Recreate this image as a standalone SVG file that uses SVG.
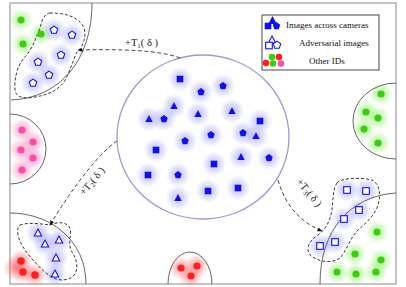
<svg xmlns="http://www.w3.org/2000/svg" xmlns:xlink="http://www.w3.org/1999/xlink" width="406" height="287" viewBox="0 0 406 287">
<style>
.frame{fill:none;stroke:#8a8a8a;stroke-width:1}
.arc{fill:none;stroke:#555;stroke-width:0.9}
.blob{fill:none;stroke:#222;stroke-width:0.9;stroke-dasharray:3,2}
.conn{fill:none;stroke:#333;stroke-width:0.9;stroke-dasharray:4,2.5}
.fs{fill:#1010f0}
.os{fill:#fff;stroke:#1010f0;stroke-width:1.1}
.lbl{font-family:"Liberation Serif","Times New Roman",serif;font-size:10.5px;fill:#222}
.leg{font-family:"Liberation Serif","Times New Roman",serif;font-size:9px;fill:#111}
.gd{fill:#3ccc10}
.rd{fill:#ff1f1f}
.pd{fill:#ff4aa8}
</style>
<defs>
<radialGradient id="gB"><stop offset="0" stop-color="#7070ff" stop-opacity="0.45"/><stop offset="0.6" stop-color="#8a8aff" stop-opacity="0.25"/><stop offset="1" stop-color="#a0a0ff" stop-opacity="0"/></radialGradient>
<radialGradient id="gG"><stop offset="0" stop-color="#50e020" stop-opacity="0.5"/><stop offset="0.6" stop-color="#70e840" stop-opacity="0.25"/><stop offset="1" stop-color="#90f060" stop-opacity="0"/></radialGradient>
<radialGradient id="gR"><stop offset="0" stop-color="#ff2020" stop-opacity="0.5"/><stop offset="0.6" stop-color="#ff5050" stop-opacity="0.25"/><stop offset="1" stop-color="#ff7070" stop-opacity="0"/></radialGradient>
<radialGradient id="gP"><stop offset="0" stop-color="#ff40a0" stop-opacity="0.5"/><stop offset="0.6" stop-color="#ff60b0" stop-opacity="0.25"/><stop offset="1" stop-color="#ff80c0" stop-opacity="0"/></radialGradient>
<rect id="sq" x="-3.3" y="-3.3" width="6.6" height="6.6"/>
<polygon id="tr" points="0,-3.9 3.7,3 -3.7,3"/>
<polygon id="pe" points="0,-3.9 3.7,-1.2 2.3,3.2 -2.3,3.2 -3.7,-1.2"/>
<circle id="glB" r="12.5" fill="url(#gB)"/>
<circle id="glG" r="12" fill="url(#gG)"/>
<circle id="glR" r="12" fill="url(#gR)"/>
<circle id="glP" r="12" fill="url(#gP)"/>
<marker id="ah" viewBox="0 0 10 10" refX="9" refY="5" markerWidth="5" markerHeight="5" orient="auto" markerUnits="userSpaceOnUse"><path d="M0,1 L10,5 L0,9 Z" fill="#111"/></marker>
</defs>
<rect width="406" height="287" fill="#fff"/>
<rect class="frame" x="10" y="3" width="386" height="281"/>

<g id="cluster-topleft">
<g>
<use href="#glG" x="21" y="20"/><use href="#glG" x="41" y="34"/><use href="#glG" x="23" y="44"/>
<use href="#glB" x="54" y="30"/><use href="#glB" x="72" y="35"/><use href="#glB" x="61" y="55"/><use href="#glB" x="38" y="62"/><use href="#glB" x="49" y="75"/><use href="#glB" x="33" y="83"/>
</g>
<path class="arc" d="M92,3 C92,60 60,98 11,100"/>
<path class="blob" d="M50,13 C62,13 78,15 84,28 C87,38 82,48 77,52 C73,60 70,72 64,82 C58,90 48,95 35,97 C25,99 16,98 15,90 C14,80 17,66 24,58 C32,50 35,40 40,28 C42,20 44,14 50,13 Z"/>
<circle class="gd" cx="21" cy="20" r="3.6"/><circle class="gd" cx="41" cy="34" r="3.6"/><circle class="gd" cx="23" cy="44" r="3.6"/>
<use class="os" href="#pe" x="54" y="30"/><use class="os" href="#pe" x="72" y="35"/><use class="os" href="#pe" x="61" y="55"/><use class="os" href="#pe" x="38" y="62"/><use class="os" href="#pe" x="49" y="75"/><use class="os" href="#pe" x="33" y="83"/>
</g>

<g id="cluster-left">
<use href="#glP" x="22" y="130"/><use href="#glP" x="33" y="142"/><use href="#glP" x="21" y="150"/><use href="#glP" x="33" y="158"/><use href="#glP" x="22" y="170"/>
<path class="arc" d="M10,114 A36,35 0 0 1 10,184"/>
<circle class="pd" cx="22" cy="130" r="3.6"/><circle class="pd" cx="33" cy="142" r="3.6"/><circle class="pd" cx="21" cy="150" r="3.6"/><circle class="pd" cx="33" cy="158" r="3.6"/><circle class="pd" cx="22" cy="170" r="3.6"/>
</g>

<g id="cluster-bottomleft">
<use href="#glR" x="21" y="261"/><use href="#glR" x="23" y="272"/><use href="#glR" x="35" y="275"/><use href="#glR" x="15" y="268"/>
<use href="#glB" x="38" y="233"/><use href="#glB" x="59" y="240"/><use href="#glB" x="45" y="244"/><use href="#glB" x="56" y="258"/><use href="#glB" x="55" y="274"/>
<path class="arc" d="M10,213 C50,213 86,240 86,284"/>
<path class="blob" d="M20,225 C28,222 42,224 50,225 C57,222 66,221 70,228 C72,235 67,244 72,252 C76,258 79,266 75,274 C71,280 62,281 56,279 C48,276 40,268 33,260 C26,252 20,244 18,235 C17,230 18,226 20,225 Z"/>
<circle class="rd" cx="21" cy="261" r="3.8"/><circle class="rd" cx="23" cy="272" r="3.8"/><circle class="rd" cx="35" cy="275" r="3.8"/>
<use class="os" href="#tr" x="38" y="233"/><use class="os" href="#tr" x="59" y="240"/><use class="os" href="#tr" x="45" y="244"/><use class="os" href="#tr" x="56" y="258"/><use class="os" href="#tr" x="55" y="274"/>
</g>

<g id="cluster-bottom">
<use href="#glR" x="181" y="268"/><use href="#glR" x="197" y="266"/><use href="#glR" x="191" y="276"/>
<path class="arc" d="M168,284 A22,32 0 0 1 212,284"/>
<circle class="rd" cx="181" cy="268" r="3.6"/><circle class="rd" cx="197" cy="266" r="3.6"/><circle class="rd" cx="191" cy="276" r="3.6"/>
</g>

<g id="cluster-right-top">
<use href="#glG" x="381" y="94"/><use href="#glG" x="366" y="112"/><use href="#glG" x="378" y="118"/><use href="#glG" x="364" y="129"/><use href="#glG" x="378" y="143"/>
<path class="arc" d="M396,83 A43,38 0 0 0 396,159"/>
<circle class="gd" cx="381" cy="94" r="3.6"/><circle class="gd" cx="366" cy="112" r="3.6"/><circle class="gd" cx="378" cy="118" r="3.6"/><circle class="gd" cx="364" cy="129" r="3.6"/><circle class="gd" cx="378" cy="143" r="3.6"/>
</g>

<g id="cluster-right-bottom">
<use href="#glG" x="377" y="232"/><use href="#glG" x="355" y="254"/><use href="#glG" x="381" y="260"/><use href="#glG" x="337" y="272"/><use href="#glG" x="356" y="274"/><use href="#glG" x="376" y="272"/>
<use href="#glB" x="347" y="190"/><use href="#glB" x="366" y="191"/><use href="#glB" x="359" y="210"/><use href="#glB" x="344" y="219"/><use href="#glB" x="335" y="242"/><use href="#glB" x="320" y="246"/>
<path class="arc" d="M396,193 C350,196 320,230 320,284"/>
<path class="blob" d="M337,183 C341,178 360,177 372,180 C380,184 381,195 378,205 C375,215 366,223 358,230 C350,238 347,250 340,258 C332,264 318,262 310,255 C305,248 310,240 318,235 C325,230 330,222 332,210 C333,200 333,188 337,183 Z"/>
<circle class="gd" cx="377" cy="232" r="3.6"/><circle class="gd" cx="355" cy="254" r="3.6"/><circle class="gd" cx="381" cy="260" r="3.6"/><circle class="gd" cx="337" cy="272" r="3.6"/><circle class="gd" cx="356" cy="274" r="3.6"/><circle class="gd" cx="376" cy="272" r="3.6"/>
<use class="os" href="#sq" x="347" y="190"/><use class="os" href="#sq" x="366" y="191"/><use class="os" href="#sq" x="359" y="210"/><use class="os" href="#sq" x="344" y="219"/><use class="os" href="#sq" x="335" y="242"/><use class="os" href="#sq" x="320" y="246"/>
</g>

<g id="center-cluster">
<ellipse cx="203" cy="137" rx="86" ry="82" fill="#fff" stroke="#9e9ad0" stroke-width="1.3"/>
<g>
<use href="#glB" x="180" y="79"/><use href="#glB" x="201" y="92"/><use href="#glB" x="223" y="86"/><use href="#glB" x="174" y="106"/><use href="#glB" x="149" y="119"/><use href="#glB" x="164" y="119"/><use href="#glB" x="198" y="114"/><use href="#glB" x="232" y="111"/><use href="#glB" x="260" y="121"/><use href="#glB" x="185" y="141"/><use href="#glB" x="211" y="135"/><use href="#glB" x="243" y="133"/><use href="#glB" x="256" y="136"/><use href="#glB" x="156" y="150"/><use href="#glB" x="241" y="157"/><use href="#glB" x="269" y="158"/><use href="#glB" x="214" y="164"/><use href="#glB" x="148" y="175"/><use href="#glB" x="178" y="175"/><use href="#glB" x="208" y="191"/><use href="#glB" x="238" y="188"/><use href="#glB" x="178" y="198"/>
</g>
<g class="fs">
<use href="#sq" x="180" y="79"/><use href="#pe" x="201" y="92"/><use href="#pe" x="223" y="86"/><use href="#tr" x="174" y="106"/><use href="#tr" x="149" y="119"/><use href="#pe" x="164" y="119"/><use href="#tr" x="198" y="114"/><use href="#tr" x="232" y="111"/><use href="#sq" x="260" y="121"/><use href="#pe" x="185" y="141"/><use href="#pe" x="211" y="135"/><use href="#pe" x="243" y="133"/><use href="#tr" x="256" y="136"/><use href="#sq" x="156" y="150"/><use href="#tr" x="241" y="157"/><use href="#pe" x="269" y="158"/><use href="#sq" x="214" y="164"/><use href="#sq" x="148" y="175"/><use href="#pe" x="178" y="175"/><use href="#sq" x="208" y="191"/><use href="#sq" x="238" y="188"/><use href="#tr" x="178" y="198"/>
</g>
</g>

<g id="connectors">
<path class="conn" d="M180,58 C160,50 120,49 78,50" marker-end="url(#ah)"/>
<path class="conn" d="M117,141 C100,152 72,188 50,225" marker-end="url(#ah)"/>
<path class="conn" d="M278,180 C285,205 300,222 322,231" marker-end="url(#ah)"/>
<text class="lbl" x="125" y="46">+T<tspan font-size="7" dy="2">1</tspan><tspan dy="-2">( δ )</tspan></text>
<text class="lbl" transform="translate(84,196) rotate(-50)">+T<tspan font-size="7" dy="2">2</tspan><tspan dy="-2">( δ )</tspan></text>
<text class="lbl" transform="translate(296,182) rotate(50)">+T<tspan font-size="7" dy="2">3</tspan><tspan dy="-2">( δ )</tspan></text>
</g>

<g id="legend">
<rect x="262" y="15" width="117" height="55" fill="#fff" stroke="#333" stroke-width="0.9"/>
<g class="fs"><use href="#tr" x="272.5" y="20.5" transform="translate(272.5,20.5) scale(1.15) translate(-272.5,-20.5)"/><use href="#sq" x="268" y="26"/><use href="#pe" x="276.5" y="26"/></g>
<g class="os"><use href="#tr" x="272" y="40"/><use href="#sq" x="269" y="45.5"/><use href="#pe" x="277" y="45"/></g>
<circle class="gd" cx="272" cy="57" r="3.3"/><circle class="rd" cx="279" cy="57" r="3.3"/><circle class="rd" cx="266" cy="63" r="3.3"/><circle class="gd" cx="273" cy="63.5" r="3.3"/><circle class="pd" cx="281" cy="63.5" r="3.3"/>
<text class="leg" x="286" y="28">Images across cameras</text>
<text class="leg" x="299" y="46">Adversarial images</text>
<text class="leg" x="309" y="64">Other IDs</text>
</g>
</svg>
